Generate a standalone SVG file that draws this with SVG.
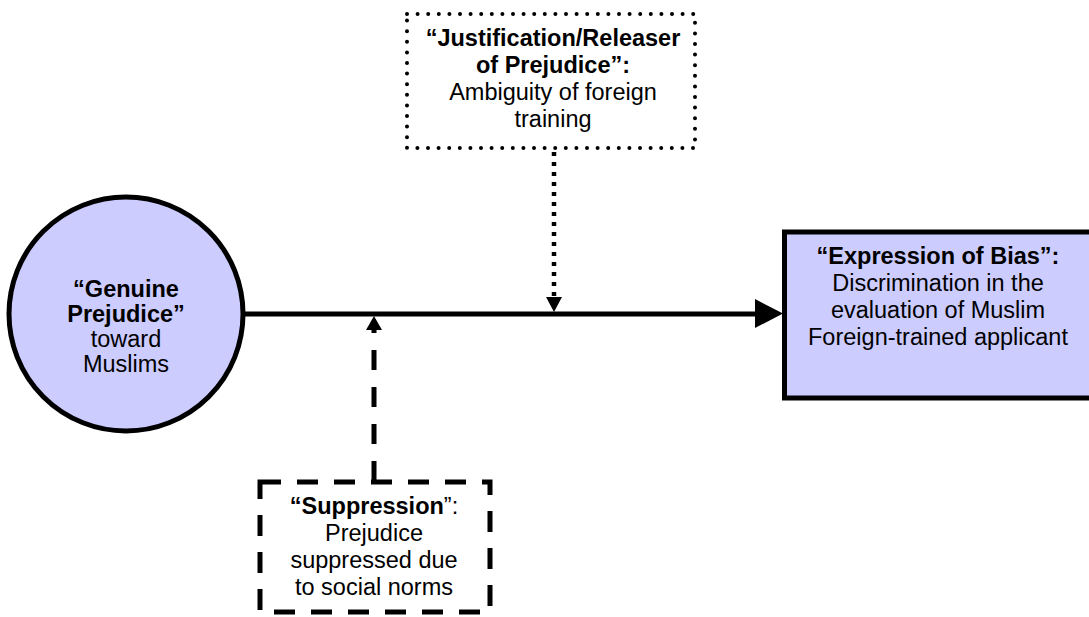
<svg xmlns="http://www.w3.org/2000/svg" width="1089" height="617" viewBox="0 0 1089 617">
<style>
text{font-family:"Liberation Sans",Arial,sans-serif;font-size:23.5px;fill:#000;text-anchor:middle}
.b{font-weight:bold}
.fill{fill:#CCCCFF;stroke:#000;stroke-width:5}
.dot{fill:none;stroke:#000;stroke-width:4;stroke-linecap:round;stroke-dasharray:0 10.6}
.dash{fill:none;stroke:#000;stroke-width:5;stroke-dasharray:21 16}
</style>
<rect width="1089" height="617" fill="#fff"/>
<g id="connectors">
<line x1="245" y1="314" x2="757" y2="314" stroke="#000" stroke-width="5"/>
<polygon points="755,299 783,313.5 755,328" fill="#000"/>
<line x1="554" y1="152" x2="554" y2="298" stroke="#000" stroke-width="4.5" stroke-dasharray="4 6"/>
<polygon points="546,297 562,297 554,312" fill="#000"/>
<line x1="374" y1="481" x2="374" y2="330" stroke="#000" stroke-width="5" stroke-dasharray="20 17"/>
<polygon points="366,330 382,330 374,316" fill="#000"/>
</g>
<g id="genuine">
<circle class="fill" cx="126" cy="314" r="117"/>
<text x="126" y="297" class="b">“Genuine</text>
<text x="126" y="322" class="b">Prejudice”</text>
<text x="126" y="347">toward</text>
<text x="126" y="372">Muslims</text>
</g>
<g id="justification">
<rect class="dot" x="407" y="14" width="288" height="134"/>
<text x="553" y="46" class="b">“Justification/Releaser</text>
<text x="553" y="73" class="b">of Prejudice”:</text>
<text x="553" y="100">Ambiguity of foreign</text>
<text x="553" y="127">training</text>
</g>
<g id="expression">
<rect class="fill" x="784.5" y="232" width="320" height="166"/>
<text x="938" y="264" class="b">“Expression of Bias”:</text>
<text x="938" y="291">Discrimination in the</text>
<text x="938" y="318">evaluation of Muslim</text>
<text x="938" y="345">Foreign-trained applicant</text>
</g>
<g id="suppression">
<rect class="dash" x="260" y="482" width="230" height="130"/>
<text x="374" y="514"><tspan class="b">“Suppression</tspan>”:</text>
<text x="374" y="541">Prejudice</text>
<text x="374" y="568">suppressed due</text>
<text x="374" y="595">to social norms</text>
</g>
</svg>
